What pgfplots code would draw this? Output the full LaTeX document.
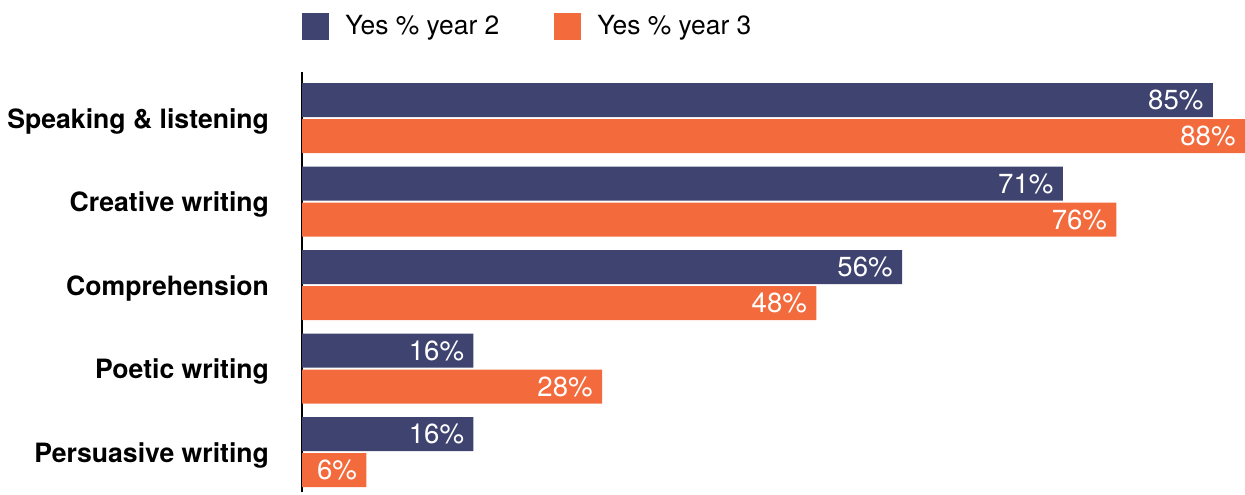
\documentclass[border=0pt]{standalone}
\usepackage{pgfplots}
\pgfplotsset{compat=1.18}
\usepackage{fontspec}
\setmainfont{TeX Gyre Heros}
\usetikzlibrary{calc}
\definecolor{navy}{HTML}{3F4370}
\definecolor{orng}{HTML}{F36B3D}
\begin{document}
\begin{tikzpicture}
\begin{axis}[name=ax, scale only axis, width=471.5pt, height=210pt,
 xbar, bar width=17pt,
 xmin=0, xmax=88, ymin=-0.479, ymax=4.551,
 axis x line=none, axis y line*=left,
 y axis line style={line width=0.9pt, -},
 ytick={0,1,2,3,4},
 yticklabels={Persuasive writing, Poetic writing, Comprehension, Creative writing, Speaking \& listening},
 major tick length=0pt,
 yticklabel style={font=\fontsize{13.3}{15}\selectfont\bfseries, xshift=-13pt, yshift=-1.5pt},
 point meta=x,
 nodes near coords={\pgfmathprintnumber{\pgfplotspointmeta}\%},
 nodes near coords style={anchor=east, text=white, font=\fontsize{13.8}{15}\selectfont, inner sep=0pt, xshift=-4.5pt},
 /pgf/number format/assume math mode=true,
 legend columns=2,
 legend style={at={(0,1)}, anchor=south west, yshift=16pt, draw=none, fill=none, inner sep=0pt,
   font=\fontsize{13.2}{15}\selectfont,
   nodes={inner sep=0pt},
   /tikz/every odd column/.append style={column sep=8pt},
   /tikz/every even column/.append style={column sep=27.5pt}},
 legend image code/.code={\fill (0pt,-6.75pt) rectangle (13.5pt,6.75pt);},
]
\addplot[fill=navy, draw=none, bar shift=9pt] coordinates {(85,4) (71,3) (56,2) (16,1) (16,0)};
\addlegendentry{Yes \% year 2}
\addplot[fill=orng, draw=none, bar shift=-9pt] coordinates {(88,4) (76,3) (48,2) (28,1) (6,0)};
\addlegendentry{Yes \% year 3}
\end{axis}
\pgfresetboundingbox
\path[use as bounding box] ($(ax.south west)+(-151pt,-1pt)$) rectangle ($(ax.north east)+(0pt,36pt)$);
\end{tikzpicture}
\end{document}
